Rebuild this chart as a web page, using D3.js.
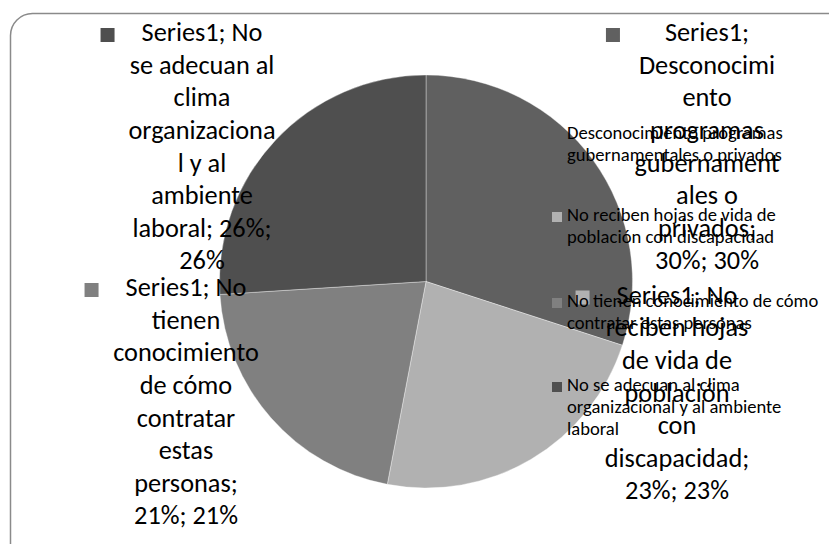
<!DOCTYPE html>
<html>
<head>
<meta charset="utf-8">
<script src="https://cdn.jsdelivr.net/npm/d3@7"></script>
<style>
  html, body { margin: 0; padding: 0; background: #fff; }
  svg { display: block; }
  text { font-family: Carlito, Calibri, Lato, sans-serif; fill: #000; }
</style>
</head>
<body>
<svg id="chart" width="829" height="544"></svg>
<script>
// Pie categories, in drawing order (clockwise from 12 o'clock)
const categories = [
  "Desconocimiento programas gubernamentales o privados",
  "No reciben hojas de vida de población con discapacidad",
  "No tienen conocimiento de cómo contratar estas personas",
  "No se adecuan al clima organizacional y al ambiente laboral"
];
const seriesName = "Series1";
const values = [30, 23, 21, 26];
const sliceColors = ["#606060", "#b1b1b1", "#808080", "#4f4f4f"];

// Legend entries as wrapped lines
const legendLines = [
  ["Desconocimiento programas", "gubernamentales o privados"],
  ["No reciben hojas de vida de", "población con discapacidad"],
  ["No tienen conocimiento de cómo", "contratar estas personas"],
  ["No se adecuan al clima", "organizacional y al ambiente", "laboral"]
];

// Data-label text, wrapped the way the label boxes break it
const pct = v => v + "%";
const labelLines = [
  [seriesName + ";", "Desconocimi", "ento", "programas", "gubernament", "ales o", "privados;", pct(values[0]) + "; " + pct(values[0])],
  [seriesName + "; No", "reciben hojas", "de vida de", "población", "con", "discapacidad;", pct(values[1]) + "; " + pct(values[1])],
  [seriesName + "; No", "tienen", "conocimiento", "de cómo", "contratar", "estas", "personas;", pct(values[2]) + "; " + pct(values[2])],
  [seriesName + "; No", "se adecuan al", "clima", "organizaciona", "l y al", "ambiente", "laboral; " + pct(values[3]) + ";", pct(values[3])]
];

const W = 829, H = 544;
const svg = d3.select("#chart");

// Chart area frame with rounded corners
svg.append("rect")
  .attr("x", 10.5).attr("y", 13.5)
  .attr("width", 840).attr("height", 560)
  .attr("rx", 22).attr("ry", 22)
  .attr("fill", "#fff")
  .attr("stroke", "#8a8a8a").attr("stroke-width", 1.5);

// Pie geometry
const cx = 426, cy = 281.5, R = 206.5;
const pie = d3.pie().sort(null).value(d => d)(values);
const arc = d3.arc().innerRadius(0).outerRadius(R);

const gPie = svg.append("g").attr("transform", `translate(${cx},${cy})`);
gPie.selectAll("path")
  .data(pie)
  .join("path")
  .attr("d", arc)
  .attr("fill", (d, i) => sliceColors[i])
  .attr("stroke", "rgba(255,255,255,0.45)")
  .attr("stroke-width", 0.8);

// Data labels: box centre, first-line centre, key gap
const labelFont = 26.3, labelLead = 32.6;
const labelLayout = [
  { x: 707, y: 35,    keyGap: 45 },
  { x: 677, y: 297.5, keyGap: 27 },
  { x: 186, y: 290,   keyGap: 27 },
  { x: 202, y: 35,    keyGap: 27 }
];
const keySize = 14;

const gLabels = svg.append("g");
labelLines.forEach((lines, i) => {
  const L = labelLayout[i];
  const g = gLabels.append("g");
  const t = g.selectAll("text")
    .data(lines)
    .join("text")
    .attr("x", L.x)
    .attr("y", (d, j) => L.y + j * labelLead)
    .attr("text-anchor", "middle")
    .attr("dominant-baseline", "middle")
    .attr("font-size", labelFont)
    .text(d => d);
  const first = t.node().getComputedTextLength();
  g.append("rect")
    .attr("x", L.x - first / 2 - L.keyGap - keySize)
    .attr("y", L.y - keySize / 2)
    .attr("width", keySize).attr("height", keySize)
    .attr("fill", sliceColors[i]);
});

// Legend
const legendFont = 18.6, legendLead = 22;
const legendTop = [135, 217, 303, 387];
const gLegend = svg.append("g");
legendLines.forEach((lines, i) => {
  gLegend.append("rect")
    .attr("x", 552).attr("y", legendTop[i] - 5)
    .attr("width", 10).attr("height", 10)
    .attr("fill", sliceColors[i]);
  gLegend.selectAll(null)
    .data(lines)
    .join("text")
    .attr("x", 567)
    .attr("y", (d, j) => legendTop[i] + j * legendLead)
    .attr("dominant-baseline", "middle")
    .attr("font-size", legendFont)
    .text(d => d);
});
</script>
</body>
</html>
